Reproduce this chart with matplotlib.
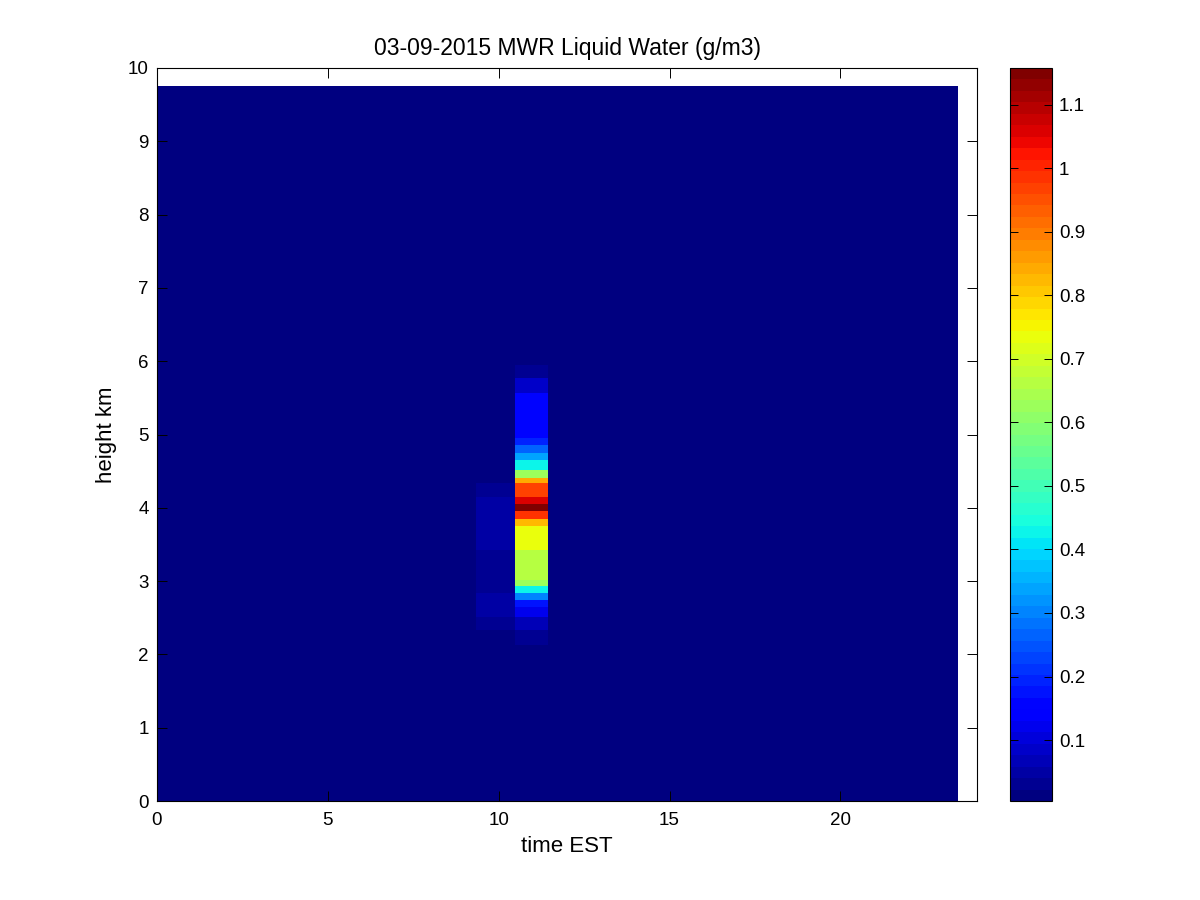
import numpy as np
import matplotlib.pyplot as plt
from matplotlib.colors import Normalize

plt.rcParams['font.family'] = ['Liberation Sans', 'DejaVu Sans']

# time segment edges (hours EST)
time_edges = [0, 9.35, 10.47, 11.43, 23.45]

# height band edges (km)
height_edges = [0, 2.13, 2.33, 2.51, 2.65, 2.74, 2.84, 2.93, 3.01, 3.42, 3.75,
                3.85, 3.96, 4.05, 4.15, 4.34, 4.41, 4.52, 4.65, 4.75, 4.86,
                4.95, 5.57, 5.77, 5.95, 9.75]

# liquid water (g/m3) per height band
background = [0.004] * 25
faint_col = [0.004, 0.02, 0.04, 0.045, 0.045, 0.045, 0.04, 0.04, 0.04, 0.045,
             0.045, 0.045, 0.045, 0.045, 0.04, 0.02, 0.01, 0.004, 0.004, 0.004,
             0.004, 0.004, 0.004, 0.004, 0.004]
main_col = [0.004, 0.03, 0.07, 0.12, 0.17, 0.30, 0.42, 0.63, 0.67, 0.73,
            0.83, 0.99, 1.15, 1.05, 0.97, 0.85, 0.62, 0.42, 0.33, 0.26,
            0.20, 0.15, 0.09, 0.04, 0.004]

lwc = np.column_stack([background, faint_col, main_col, background])

cmap = plt.get_cmap('jet', 64)
norm = Normalize(vmin=0.004, vmax=1.158)

fig = plt.figure(figsize=(12, 9), dpi=100)
ax = fig.add_axes([157 / 1200, 99 / 900, 820 / 1200, 733 / 900])
cax = fig.add_axes([1010 / 1200, 99 / 900, 42 / 1200, 733 / 900])

mesh = ax.pcolormesh(time_edges, height_edges, lwc, cmap=cmap, norm=norm, shading='flat')
ax.set_xlim(0, 24)
ax.set_ylim(0, 10)
ax.set_xticks([0, 5, 10, 15, 20])
ax.set_yticks(range(0, 11))
ax.tick_params(direction='in', top=True, right=True, labelsize=13.5, length=7, width=0.7)
ax.tick_params(axis='x', pad=8)
ax.tick_params(axis='y', pad=6)
ax.set_xlabel('time EST', fontsize=16, labelpad=5)
ax.set_ylabel('height km', fontsize=16, labelpad=8)
ax.set_title('03-09-2015 MWR Liquid Water (g/m3)', fontsize=16.5, pad=9)
for s in ax.spines.values():
    s.set_linewidth(0.8)

cb = fig.colorbar(mesh, cax=cax)
cb.set_ticks([0.1, 0.2, 0.3, 0.4, 0.5, 0.6, 0.7, 0.8, 0.9, 1.0, 1.1])
cb.set_ticklabels(['0.1', '0.2', '0.3', '0.4', '0.5', '0.6', '0.7', '0.8', '0.9', '1', '1.1'])
cax.tick_params(direction='in', left=True, right=True, labelsize=13.5, length=6, width=0.7, pad=5)
cb.outline.set_linewidth(0.8)

fig.savefig('out.png', dpi=100, facecolor='white')
